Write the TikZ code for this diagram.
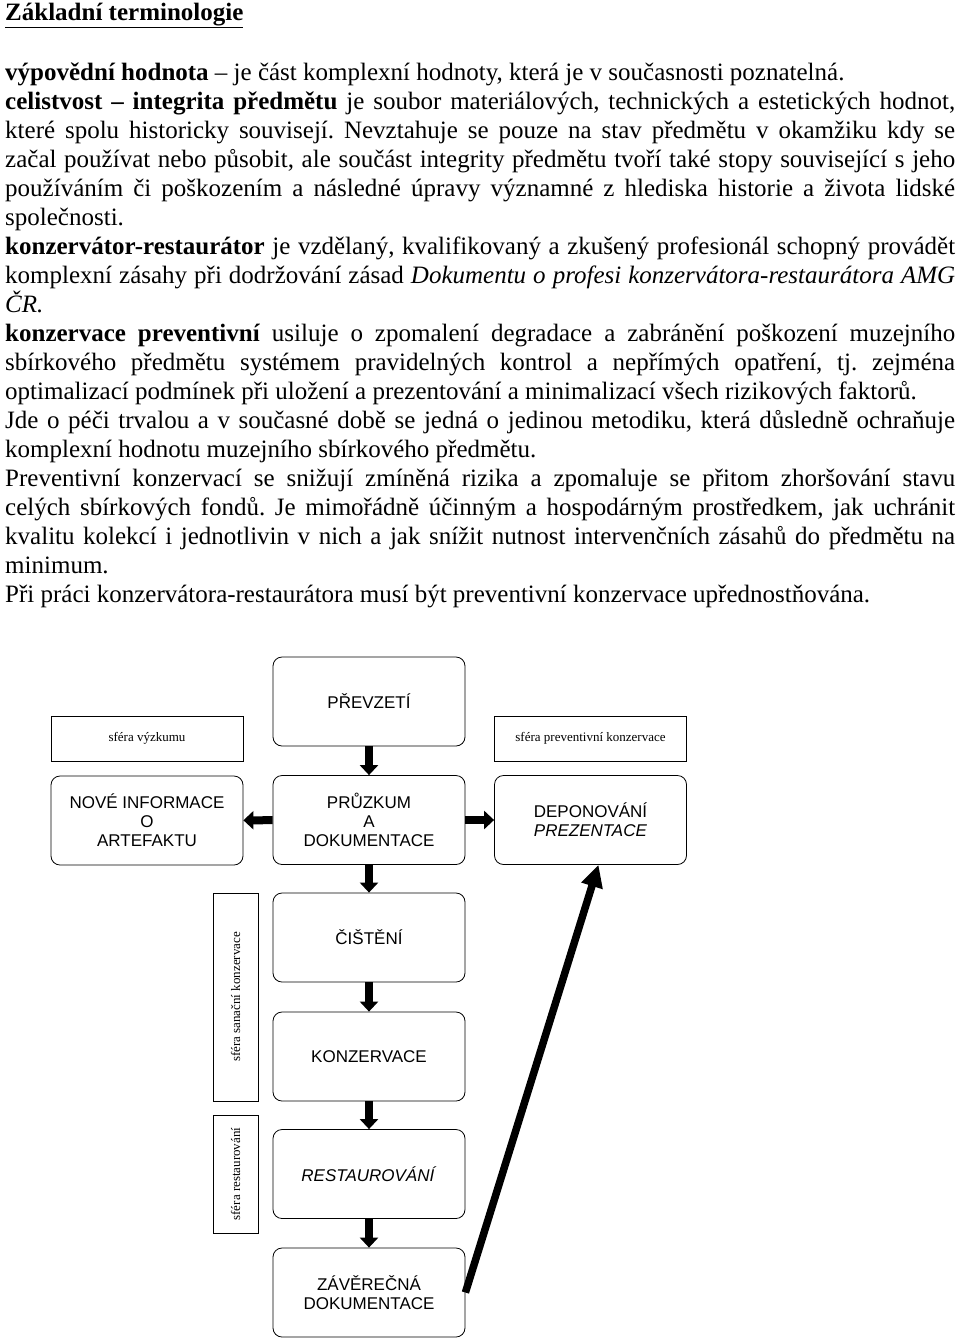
\documentclass[tikz,border=0pt]{standalone}
\usepackage{fontspec}
\setmainfont{Liberation Serif}
\newfontfamily\boxfont{Liberation Sans}
\usetikzlibrary{arrows.meta}

\begin{document}
\begin{tikzpicture}[x=1pt,y=-1pt,
krok/.style={draw,rounded corners=9pt,minimum width=192pt,minimum height=89pt,align=center,
  font={\boxfont\fontsize{17}{19}\selectfont},line width=0.8pt},
sfera/.style={draw,minimum width=192pt,minimum height=45pt,font={\fontsize{13}{15}\selectfont},line width=1pt},
tok/.style={line width=8pt,-{Triangle[length=10pt,width=18pt]}}]
\useasboundingbox (0,0) rectangle (960,1339);

\node[anchor=north west,inner sep=0pt,text width=950pt,align=justify,
  font={\fontsize{25}{29}\selectfont\frenchspacing\tolerance=10000\hbadness=10000}] (text) at (5,3) {%
\underline{\textbf{Základní terminologie}}\\[31pt]
\textbf{výpovědní hodnota} – je část komplexní hodnoty, která je v současnosti poznatelná.\\
\textbf{celistvost – integrita předmětu} je soubor materiálových, technických a estetických hodnot, \linebreak
které spolu historicky souvisejí. Nevztahuje se pouze na stav předmětu v okamžiku kdy se \linebreak
začal používat nebo působit, ale součást integrity předmětu tvoří také stopy související s jeho \linebreak
používáním či poškozením a následné úpravy významné z hlediska historie a života lidské \linebreak
společnosti.\\
\textbf{konzervátor-restaurátor} je vzdělaný, kvalifikovaný a zkušený profesionál schopný provádět \linebreak
komplexní zásahy při dodržování zásad \textit{Dokumentu o profesi konzervátora-restaurátora AMG} \linebreak
\textit{ČR.}\\
\textbf{konzervace preventivní} usiluje o zpomalení degradace a zabránění poškození muzejního \linebreak
sbírkového předmětu systémem pravidelných kontrol a nepřímých opatření, tj. zejména \linebreak
optimalizací podmínek při uložení a prezentování a minimalizací všech rizikových faktorů.\\
Jde o péči trvalou a v současné době se jedná o jedinou metodiku, která důsledně ochraňuje \linebreak
komplexní hodnotu muzejního sbírkového předmětu.\\
Preventivní konzervací se snižují zmíněná rizika a zpomaluje se přitom zhoršování stavu \linebreak
celých sbírkových fondů. Je mimořádně účinným a hospodárným prostředkem, jak uchránit \linebreak
kvalitu kolekcí i jednotlivin v nich a jak snížit nutnost intervenčních zásahů do předmětu na \linebreak
minimum.\\
Při práci konzervátora-restaurátora musí být preventivní konzervace upřednostňována.};

\node[krok] (prevzeti) at (369,701.5) {PŘEVZETÍ};
\node[sfera] (vyzkum) at (147,738.5) {sféra výzkumu};
\node[sfera] (prevence) at (590.5,738.5) {sféra preventivní konzervace};
\node[krok] (pruzkum) at (369,820) {PRŮZKUM\\A\\DOKUMENTACE};
\node[krok] (nove) at (147,820.5) {NOVÉ INFORMACE\\O\\ARTEFAKTU};
\node[krok] (deponovani) at (590.5,820) {DEPONOVÁNÍ\\\textit{PREZENTACE}};
\node[krok] (cisteni) at (369,937.5) {ČIŠTĚNÍ};
\node[krok] (konzervace) at (369,1056.5) {KONZERVACE};
\node[krok] (restaurovani) at (369,1174) {\textit{RESTAUROVÁNÍ}};
\node[krok] (zaverecna) at (369,1292.5) {ZÁVĚREČNÁ\\DOKUMENTACE};
\node[sfera,rotate=90,minimum width=208pt] (sanace) at (235.5,997) {sféra sanační konzervace};
\node[sfera,rotate=90,minimum width=118pt] (restaurace) at (235.5,1174) {sféra restaurování};

\draw[tok] (prevzeti) -- (pruzkum);
\draw[tok] (pruzkum) -- (nove);
\draw[tok] (pruzkum) -- (deponovani);
\draw[tok] (pruzkum) -- (cisteni);
\draw[tok] (cisteni) -- (konzervace);
\draw[tok] (konzervace) -- (restaurovani);
\draw[tok] (restaurovani) -- (zaverecna);
\draw[line width=7.5pt,-{Triangle[length=22pt,width=21pt]}] (zaverecna.east) -- ([xshift=8pt]deponovani.south);
\end{tikzpicture}
\end{document}
